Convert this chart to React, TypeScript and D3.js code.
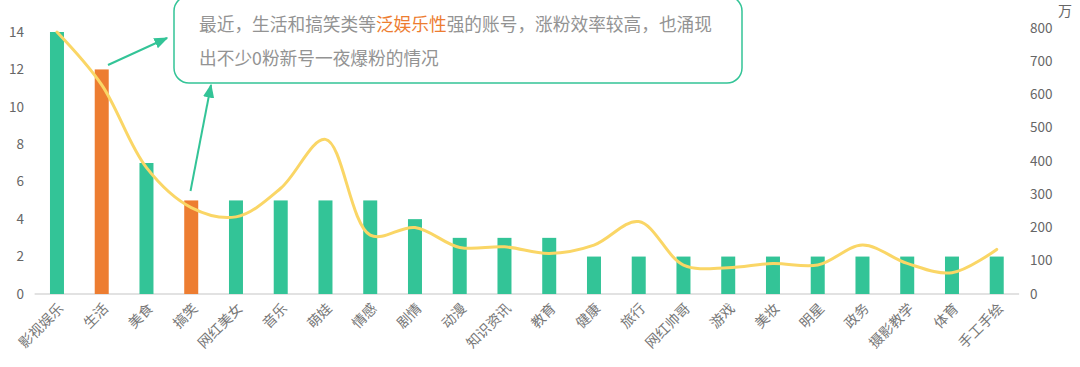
import React from "react";
import * as d3 from "d3";

const categories = ["影视娱乐","生活","美食","搞笑","网红美女","音乐","萌娃","情感","剧情","动漫","知识资讯","教育","健康","旅行","网红帅哥","游戏","美妆","明星","政务","摄影教学","体育","手工手绘"];
const barValues = [14,12,7,5,5,5,5,5,4,3,3,3,2,2,2,2,2,2,2,2,2,2];
const highlighted = ["生活","搞笑"];
const lineValues = [788,629,380,260,232,318,465,177,200,140,142,122,147,218,87,79,92,87,147,92,64,134];
const leftTicks = [0,2,4,6,8,10,12,14];
const rightTicks = [0,100,200,300,400,500,600,700,800];
const noteLine1a = "最近，生活和搞笑类等";
const noteLine1b = "泛娱乐性";
const noteLine1c = "强的账号，涨粉效率较高，也涌现";
const noteLine2 = "出不少0粉新号一夜爆粉的情况";
const unitLabel = "万";

const W = 1080, H = 367;
const GREEN = "#33C497";
const ORANGE = "#ED7D31";
const YELLOW = "#FAD666";
const FONT = "'Noto Sans CJK SC', 'Noto Sans', sans-serif";

export default function App() {
  const x = d3.scaleBand<string>().domain(categories).range([34.6, 1019.1]).paddingInner(0).paddingOuter(0);
  const yL = d3.scaleLinear().domain([0, 14]).range([294, 32]);
  const yR = d3.scaleLinear().domain([0, 800]).range([294, 28]);
  const barW = 14;
  const cx = (c: string) => (x(c) as number) + x.bandwidth() / 2;

  const line = d3.line<number>()
    .x((_, i) => cx(categories[i]))
    .y((d) => yR(d))
    .curve(d3.curveCatmullRom.alpha(0.5));

  return (
    <svg width={W} height={H} style={{ position: "absolute", left: 0, top: 0, background: "#fff" }} fontFamily={FONT}>
      <defs>
        <marker id="arr" viewBox="0 0 10 10" refX="9" refY="5" markerWidth="7" markerHeight="7" orient="auto">
          <path d="M0,1 L10,5 L0,9 z" fill={GREEN} />
        </marker>
      </defs>
      {/* baseline */}
      <line x1={34.6} x2={1019.1} y1={yL(0)} y2={yL(0)} stroke="#d9d9d9" strokeWidth={1.5} />
      {/* left axis */}
      {leftTicks.map((t) => (
        <text key={"l" + t} x={24} y={yL(t)} dy="0.35em" textAnchor="end" fontSize={13.5} fill="#666">{t}</text>
      ))}
      {/* right axis */}
      {rightTicks.map((t) => (
        <text key={"r" + t} x={1030} y={yR(t)} dy="0.35em" textAnchor="start" fontSize={13.5} fill="#666">{t}</text>
      ))}
      <text x={1058} y={16} fontSize={14} fill="#666">{unitLabel}</text>
      {/* bars */}
      {categories.map((c, i) => (
        <rect key={c} x={cx(c) - barW / 2} y={yL(barValues[i])} width={barW} height={yL(0) - yL(barValues[i])}
          fill={highlighted.includes(c) ? ORANGE : GREEN} />
      ))}
      {/* line */}
      <path d={line(lineValues) || ""} fill="none" stroke={YELLOW} strokeWidth={3} strokeLinecap="round" />
      {/* x labels */}
      {categories.map((c) => (
        <text key={"t" + c} transform={`translate(${cx(c) + 4},${306}) rotate(-45)`} textAnchor="end" fontSize={14} fill="#777" dy="0.35em">{c}</text>
      ))}
      {/* annotation */}
      <rect x={174} y={-4} width={568} height={87} rx={15} ry={15} fill="#fff" stroke={GREEN} strokeWidth={1.5} />
      <text x={199} y={31} fontSize={17.7} fill="#939393">
        <tspan>{noteLine1a}</tspan>
        <tspan fill={ORANGE}>{noteLine1b}</tspan>
        <tspan>{noteLine1c}</tspan>
      </text>
      <text x={199} y={65} fontSize={17.7} fill="#939393">{noteLine2}</text>
      <line x1={108} y1={65} x2={167} y2={38} stroke={GREEN} strokeWidth={2} markerEnd="url(#arr)" />
      <line x1={190.5} y1={191} x2={211} y2={85} stroke={GREEN} strokeWidth={2} markerEnd="url(#arr)" />
    </svg>
  );
}
